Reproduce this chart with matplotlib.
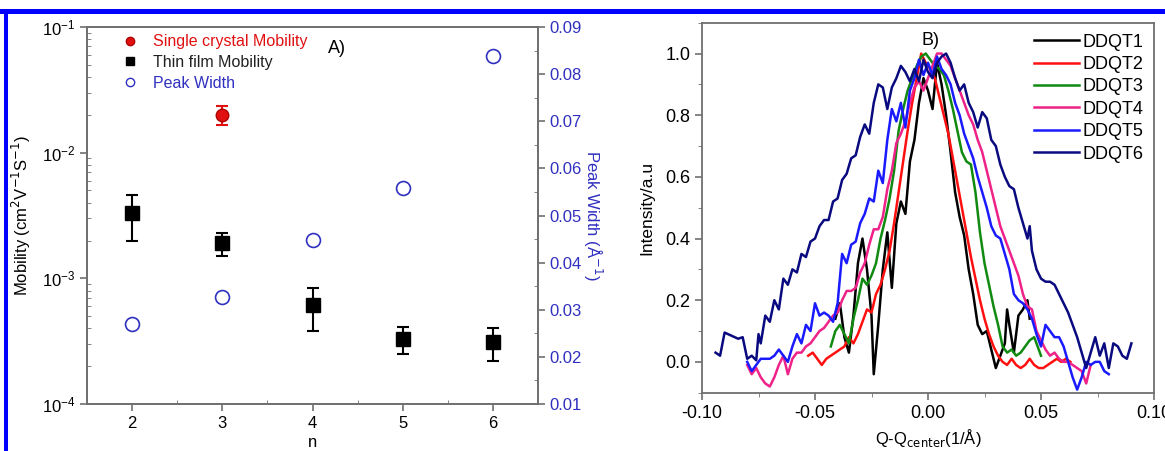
import matplotlib
matplotlib.use("Agg")
import matplotlib.pyplot as plt
from matplotlib.lines import Line2D
from matplotlib.patches import Rectangle
from matplotlib.ticker import MultipleLocator, LogLocator, NullFormatter

plt.rcParams['font.family'] = ['Liberation Sans', 'DejaVu Sans']

# ---------------- Panel A data ----------------
n_values = [2, 3, 4, 5, 6]
thin_film_mobility = [0.0033, 0.0019, 0.00061, 0.00033, 0.00031]
thin_film_err_low = [0.0013, 0.0004, 0.00023, 0.00008, 0.00009]
thin_film_err_high = [0.0013, 0.0004, 0.00023, 0.00008, 0.00009]
single_crystal_n = [3]
single_crystal_mobility = [0.020]
single_crystal_err = [0.0035]
peak_width = [0.0269, 0.0328, 0.0448, 0.0558, 0.0838]

# ---------------- Panel B data ----------------
ddqt1_x = [-0.041, -0.039, -0.037, -0.035, -0.033, -0.031, -0.029, -0.027, -0.025, -0.024,
           -0.022, -0.020, -0.018, -0.016, -0.014, -0.012, -0.010, -0.008, -0.006, -0.004,
           -0.002, 0.000, 0.002, 0.004, 0.006, 0.008, 0.010, 0.012, 0.014, 0.016,
           0.018, 0.020, 0.022, 0.024, 0.026, 0.028, 0.030, 0.032, 0.034, 0.035,
           0.036, 0.038, 0.040, 0.042, 0.044, 0.045]
ddqt1_y = [0.14, 0.19, 0.08, 0.03, 0.15, 0.32, 0.40, 0.30, 0.15, -0.04,
           0.12, 0.30, 0.42, 0.24, 0.45, 0.52, 0.48, 0.65, 0.72, 0.84,
           0.92, 0.88, 0.82, 0.97, 0.90, 0.80, 0.68, 0.55, 0.47, 0.41,
           0.30, 0.22, 0.12, 0.09, 0.10, 0.04, -0.02, 0.02, 0.06, 0.17,
           0.12, 0.03, 0.15, 0.17, 0.20, 0.14]

ddqt2_x = [-0.053, -0.051, -0.049, -0.047, -0.045, -0.043, -0.041, -0.039, -0.037, -0.035,
           -0.033, -0.031, -0.029, -0.027, -0.025, -0.023, -0.021, -0.019, -0.017, -0.015,
           -0.013, -0.011, -0.009, -0.007, -0.005, -0.003, -0.001, 0.001, 0.003, 0.005,
           0.007, 0.009, 0.011, 0.013, 0.015, 0.017, 0.019, 0.021, 0.023, 0.025,
           0.027, 0.029, 0.031, 0.033, 0.035, 0.037, 0.039, 0.041, 0.043, 0.045,
           0.047, 0.049, 0.051, 0.053, 0.055, 0.057, 0.059, 0.061, 0.063]
ddqt2_y = [0.02, 0.03, 0.01, -0.01, 0.01, 0.02, 0.03, 0.04, 0.05, 0.08,
           0.06, 0.09, 0.13, 0.17, 0.16, 0.22, 0.25, 0.30, 0.36, 0.45,
           0.55, 0.65, 0.75, 0.84, 0.92, 1.00, 0.97, 0.95, 0.92, 0.86,
           0.80, 0.74, 0.66, 0.58, 0.50, 0.42, 0.34, 0.27, 0.20, 0.14,
           0.09, 0.05, 0.02, 0.00, -0.01, 0.01, -0.01, -0.02, -0.01, 0.01,
           -0.01, -0.02, -0.02, -0.01, 0.00, 0.01, 0.00, 0.01, 0.00]

ddqt3_x = [-0.043, -0.041, -0.039, -0.037, -0.035, -0.033, -0.031, -0.029, -0.027, -0.025,
           -0.023, -0.021, -0.019, -0.017, -0.015, -0.013, -0.011, -0.009, -0.007, -0.005,
           -0.003, -0.001, 0.001, 0.003, 0.005, 0.007, 0.009, 0.011, 0.013, 0.015,
           0.017, 0.019, 0.021, 0.023, 0.025, 0.027, 0.029, 0.031, 0.033, 0.035,
           0.037, 0.039, 0.041, 0.043, 0.045, 0.047, 0.049, 0.050]
ddqt3_y = [0.05, 0.10, 0.12, 0.09, 0.06, 0.14, 0.20, 0.27, 0.25, 0.28,
           0.32, 0.40, 0.46, 0.53, 0.62, 0.75, 0.82, 0.88, 0.92, 0.96,
           0.99, 1.00, 0.98, 0.96, 0.95, 0.93, 0.88, 0.82, 0.75, 0.68,
           0.65, 0.64, 0.55, 0.42, 0.32, 0.25, 0.18, 0.12, 0.05, 0.03,
           0.04, 0.02, 0.03, 0.05, 0.07, 0.08, 0.04, 0.02]

ddqt4_x = [-0.080, -0.078, -0.076, -0.074, -0.072, -0.070, -0.068, -0.066, -0.064, -0.062,
           -0.060, -0.058, -0.056, -0.054, -0.052, -0.050, -0.048, -0.046, -0.044, -0.042,
           -0.040, -0.038, -0.036, -0.034, -0.032, -0.030, -0.028, -0.026, -0.024, -0.022,
           -0.020, -0.018, -0.016, -0.014, -0.012, -0.010, -0.008, -0.006, -0.004, -0.002,
           0.000, 0.002, 0.004, 0.006, 0.008, 0.010, 0.012, 0.014, 0.016, 0.018,
           0.020, 0.022, 0.024, 0.026, 0.028, 0.030, 0.032, 0.034, 0.036, 0.038,
           0.040, 0.042, 0.044, 0.046, 0.048, 0.050, 0.052, 0.054, 0.056, 0.058,
           0.060, 0.062, 0.064, 0.066, 0.068, 0.070, 0.072]
ddqt4_y = [-0.01, -0.04, -0.02, -0.05, -0.07, -0.08, -0.05, -0.01, 0.02, -0.04,
           0.01, 0.03, 0.03, 0.05, 0.06, 0.08, 0.10, 0.11, 0.13, 0.15,
           0.16, 0.20, 0.23, 0.23, 0.24, 0.29, 0.32, 0.38, 0.43, 0.43,
           0.47, 0.56, 0.62, 0.71, 0.74, 0.78, 0.84, 0.89, 0.91, 0.88,
           0.92, 0.96, 1.00, 1.00, 0.98, 0.96, 0.92, 0.88, 0.84, 0.80,
           0.77, 0.72, 0.68, 0.62, 0.56, 0.50, 0.44, 0.40, 0.36, 0.32,
           0.28, 0.22, 0.18, 0.17, 0.10, 0.07, 0.04, 0.02, 0.03, 0.01,
           0.00, 0.00, -0.01, -0.02, -0.03, -0.07, -0.01]

ddqt5_x = [-0.080, -0.078, -0.076, -0.074, -0.072, -0.070, -0.068, -0.066, -0.064, -0.062,
           -0.060, -0.058, -0.056, -0.054, -0.052, -0.050, -0.048, -0.046, -0.044, -0.042,
           -0.040, -0.038, -0.036, -0.034, -0.032, -0.030, -0.028, -0.026, -0.024, -0.022,
           -0.020, -0.018, -0.016, -0.014, -0.012, -0.010, -0.008, -0.006, -0.004, -0.002,
           0.000, 0.002, 0.004, 0.006, 0.008, 0.010, 0.012, 0.014, 0.016, 0.018,
           0.020, 0.022, 0.024, 0.026, 0.028, 0.030, 0.032, 0.034, 0.036, 0.038,
           0.040, 0.042, 0.044, 0.046, 0.048, 0.050, 0.052, 0.054, 0.056, 0.058,
           0.060, 0.062, 0.064, 0.066, 0.068, 0.070, 0.072, 0.074, 0.076, 0.078, 0.080]
ddqt5_y = [0.00, -0.03, -0.01, 0.01, 0.01, 0.01, 0.02, 0.04, 0.02, 0.00,
           0.05, 0.09, 0.06, 0.12, 0.10, 0.19, 0.15, 0.16, 0.15, 0.13,
           0.19, 0.35, 0.32, 0.38, 0.39, 0.45, 0.48, 0.53, 0.52, 0.62,
           0.58, 0.72, 0.82, 0.78, 0.84, 0.76, 0.88, 0.92, 0.98, 0.93,
           0.97, 0.93, 0.99, 0.95, 0.93, 0.90, 0.84, 0.80, 0.74, 0.70,
           0.66, 0.60, 0.55, 0.50, 0.44, 0.41, 0.40, 0.35, 0.30, 0.22,
           0.20, 0.19, 0.17, 0.14, 0.09, 0.05, 0.12, 0.10, 0.08, 0.08,
           0.05, 0.00, -0.05, -0.09, -0.05, 0.00, -0.01, 0.00, 0.00, -0.03, -0.04]

ddqt6_x = [-0.094, -0.092, -0.090, -0.087, -0.084, -0.082, -0.080, -0.078, -0.076, -0.075,
           -0.074, -0.072, -0.070, -0.068, -0.066, -0.064, -0.062, -0.060, -0.058, -0.056,
           -0.054, -0.052, -0.050, -0.048, -0.046, -0.044, -0.042, -0.040, -0.038, -0.036,
           -0.034, -0.032, -0.030, -0.028, -0.026, -0.024, -0.022, -0.020, -0.018, -0.016,
           -0.014, -0.012, -0.010, -0.008, -0.006, -0.004, -0.002, 0.000, 0.002, 0.004,
           0.006, 0.008, 0.010, 0.012, 0.014, 0.016, 0.018, 0.020, 0.022, 0.024,
           0.026, 0.028, 0.030, 0.032, 0.034, 0.036, 0.038, 0.040, 0.042, 0.044,
           0.045, 0.046, 0.048, 0.050, 0.052, 0.054, 0.056, 0.058, 0.060, 0.062,
           0.064, 0.066, 0.068, 0.070, 0.072, 0.074, 0.076, 0.078, 0.080, 0.082,
           0.084, 0.086, 0.088, 0.090]
ddqt6_y = [0.03, 0.02, 0.095, 0.085, 0.075, 0.08, 0.01, 0.02, 0.005, 0.09,
           0.06, 0.15, 0.13, 0.20, 0.17, 0.27, 0.25, 0.30, 0.29, 0.35,
           0.34, 0.39, 0.40, 0.44, 0.46, 0.46, 0.52, 0.53, 0.59, 0.61,
           0.66, 0.67, 0.73, 0.77, 0.74, 0.84, 0.90, 0.89, 0.82, 0.89,
           0.92, 0.96, 0.94, 0.91, 0.95, 0.91, 0.98, 0.94, 0.92, 0.97,
           0.99, 1.00, 0.97, 0.92, 0.88, 0.90, 0.84, 0.81, 0.76, 0.81,
           0.79, 0.72, 0.70, 0.64, 0.60, 0.57, 0.56, 0.50, 0.45, 0.40,
           0.44, 0.36, 0.30, 0.27, 0.26, 0.26, 0.25, 0.22, 0.19, 0.16,
           0.12, 0.08, 0.03, -0.02, 0.03, 0.08, 0.02, 0.06, -0.02, 0.06,
           0.05, 0.02, 0.01, 0.06]

series_labels = ['DDQT1', 'DDQT2', 'DDQT3', 'DDQT4', 'DDQT5', 'DDQT6']
series_colors = ['#000000', '#ff1010', '#108a10', '#ee2288', '#1a1aff', '#0a0a80']

SPINE = '#707070'
RIGHT_BLUE = '#3030c0'

fig = plt.figure(figsize=(11.65, 4.51), dpi=100)

# Blue border lines
fig.add_artist(Rectangle((0, 1 - 13.5 / 451), 1, 4.5 / 451, transform=fig.transFigure,
                         facecolor='#0000ff', edgecolor='none'))
fig.add_artist(Rectangle((4 / 1165, 0), 3.5 / 1165, 1 - 10 / 451, transform=fig.transFigure,
                         facecolor='#0000ff', edgecolor='none'))

# ---------------- Panel A ----------------
axA = fig.add_axes([87 / 1165, 1 - 404 / 451, 451 / 1165, 377 / 451])
axA.set_yscale('log')
axA.set_xlim(1.5, 6.5)
axA.set_ylim(1e-4, 1e-1)
axA.errorbar(n_values, thin_film_mobility, yerr=[thin_film_err_low, thin_film_err_high],
             fmt='s', color='black', ms=10, capsize=4, elinewidth=1.5, capthick=1.5, zorder=3)
axA.errorbar(single_crystal_n, single_crystal_mobility, yerr=single_crystal_err,
             fmt='o', color='#e01010', mec='#b00000', ms=9, capsize=4, elinewidth=1.5,
             capthick=1.5, zorder=4)
axA.set_xlabel('n', fontsize=12, labelpad=3)
axA.set_ylabel('Mobility (cm$^{2}$V$^{-1}$S$^{-1}$)', fontsize=12, labelpad=6)
axA.xaxis.set_major_locator(MultipleLocator(1))
axA.xaxis.set_minor_locator(MultipleLocator(0.5))
axA.yaxis.set_minor_locator(LogLocator(base=10, subs=range(2, 10)))
axA.yaxis.set_minor_formatter(NullFormatter())
axA.tick_params(axis='both', which='major', labelsize=12, color=SPINE, length=5, width=1.2)
axA.tick_params(axis='x', which='minor', direction='in', color=SPINE, length=3)
axA.tick_params(axis='y', which='minor', direction='in', color=SPINE, length=3)
for s in axA.spines.values():
    s.set_color(SPINE)
    s.set_linewidth(1.3)

axA2 = axA.twinx()
axA2.set_ylim(0.01, 0.09)
axA2.plot(n_values, peak_width, 'o', mfc='none', mec=RIGHT_BLUE, ms=10, mew=1.2, zorder=3)
axA2.yaxis.set_minor_locator(MultipleLocator(0.005))
axA2.set_yticks([0.01, 0.02, 0.03, 0.04, 0.05, 0.06, 0.07, 0.08, 0.09])
axA2.set_yticklabels(['0.01', '0.02', '0.03', '0.04', '0.05', '0.06', '0.07', '0.08', '0.09'])
axA2.tick_params(axis='y', which='major', labelsize=12, labelcolor=RIGHT_BLUE,
                 color=SPINE, length=5, width=1.2, pad=3)
axA2.tick_params(axis='y', which='minor', direction='in', color=SPINE, length=3)
axA2.set_ylabel('Peak Width (Å$^{-1}$)', fontsize=12, color=RIGHT_BLUE, rotation=270,
                labelpad=16)
for s in axA2.spines.values():
    s.set_color(SPINE)
    s.set_linewidth(1.3)

handlesA = [
    Line2D([], [], marker='o', ls='none', color='#e01010', mec='#b00000', ms=6),
    Line2D([], [], marker='s', ls='none', color='black', ms=6),
    Line2D([], [], marker='o', ls='none', mfc='none', mec=RIGHT_BLUE, ms=6),
]
legA = axA2.legend(handlesA, ['Single crystal Mobility', 'Thin film Mobility', 'Peak Width'],
                   loc='upper left', bbox_to_anchor=(0.05, 1.01), frameon=False, fontsize=11.5,
                   handletextpad=0.8, labelspacing=0.35, borderaxespad=0.3, handlelength=1.2)
for t, c in zip(legA.get_texts(), ['#e01010', '#202020', RIGHT_BLUE]):
    t.set_color(c)
axA.text(0.535, 0.965, 'A)', transform=axA.transAxes, fontsize=13, ha='left', va='top')

# ---------------- Panel B ----------------
axB = fig.add_axes([702 / 1165, 1 - 392.7 / 451, 452 / 1165, 370 / 451])
xs = [ddqt1_x, ddqt2_x, ddqt3_x, ddqt4_x, ddqt5_x, ddqt6_x]
ys = [ddqt1_y, ddqt2_y, ddqt3_y, ddqt4_y, ddqt5_y, ddqt6_y]
for x, y, lab, col in zip(xs, ys, series_labels, series_colors):
    axB.plot(x, y, color=col, lw=1.8, label=lab)
axB.set_xlim(-0.10, 0.10)
axB.set_ylim(-0.1, 1.1)
axB.xaxis.set_minor_locator(MultipleLocator(0.025))
axB.yaxis.set_minor_locator(MultipleLocator(0.1))
axB.set_xticks([-0.10, -0.05, 0.00, 0.05, 0.10])
axB.set_xticklabels(['-0.10', '-0.05', '0.00', '0.05', '0.10'])
axB.set_yticks([0.0, 0.2, 0.4, 0.6, 0.8, 1.0])
axB.set_yticklabels(['0.0', '0.2', '0.4', '0.6', '0.8', '1.0'])
axB.tick_params(axis='both', which='major', labelsize=13, color=SPINE, length=5, width=1.2)
axB.tick_params(axis='both', which='minor', color=SPINE, length=3)
axB.set_xlabel('Q-Q$_{\\mathrm{center}}$(1/Å)', fontsize=12, labelpad=4)
axB.set_ylabel('Intensity/a.u', fontsize=12.5, labelpad=8)
for s in axB.spines.values():
    s.set_color(SPINE)
    s.set_linewidth(1.3)
axB.legend(loc='upper right', frameon=False, fontsize=13, handlelength=2.5,
           handletextpad=0.15, labelspacing=0.3, borderaxespad=0.2)
axB.text(0.505, 0.975, 'B)', transform=axB.transAxes, fontsize=13, ha='center', va='top')

fig.savefig('out.png', dpi=100)
